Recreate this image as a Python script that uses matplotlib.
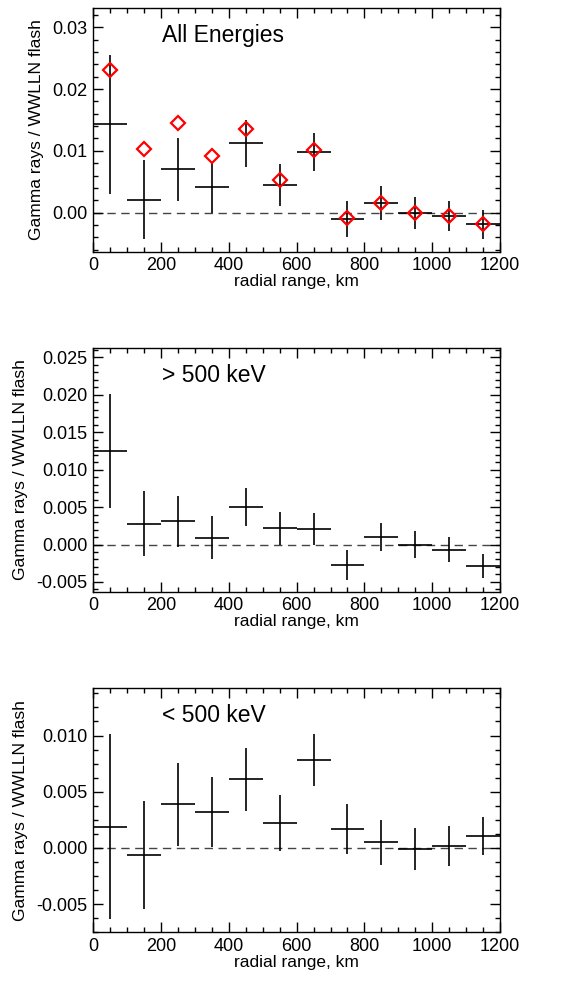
import numpy as np
import matplotlib
matplotlib.use('Agg')
import matplotlib.pyplot as plt
from matplotlib.ticker import MultipleLocator, AutoMinorLocator, FormatStrFormatter

plt.rcParams['font.family'] = ['Liberation Sans', 'DejaVu Sans']

# radial bins, km (bin centers, width 100)
r_center = [50, 150, 250, 350, 450, 550, 650, 750, 850, 950, 1050, 1150]
half_bin = 50

# all energies
all_val = [0.0143, 0.0021, 0.0070, 0.0041, 0.0112, 0.0045, 0.0098, -0.0010, 0.0016, 0.0000, -0.0005, -0.0019]
all_err = [0.0112, 0.0064, 0.0051, 0.0041, 0.0038, 0.0034, 0.0031, 0.0029, 0.0027, 0.0026, 0.0024, 0.0024]
all_red = [0.0231, 0.0103, 0.0145, 0.0092, 0.0136, 0.0053, 0.0102, -0.0009, 0.0016, 0.0000, -0.0005, -0.0019]

# > 500 keV
hi_val = [0.0125, 0.0028, 0.0031, 0.0009, 0.0050, 0.0022, 0.0021, -0.0028, 0.0010, 0.0000, -0.0007, -0.0029]
hi_err = [0.0076, 0.0044, 0.0034, 0.0029, 0.0025, 0.0022, 0.0021, 0.0020, 0.0019, 0.0018, 0.0017, 0.0016]

# < 500 keV
lo_val = [0.0019, -0.0006, 0.0039, 0.0032, 0.0061, 0.0022, 0.0078, 0.0017, 0.0005, -0.0001, 0.0002, 0.0011]
lo_err = [0.0082, 0.0048, 0.0037, 0.0031, 0.0028, 0.0025, 0.0023, 0.0022, 0.0020, 0.0019, 0.0018, 0.0017]

fig = plt.figure(figsize=(5.74, 9.84), dpi=100)

panels = [
    ([0.1626, 0.7442, 0.7084, 0.2477], all_val, all_err, all_red, 'All Energies',
     (-0.0063, 0.0331), 0.01, 5, '%.2f'),
    ([0.1626, 0.3987, 0.7084, 0.2473], hi_val, hi_err, None, '> 500 keV',
     (-0.0063, 0.0262), 0.005, 5, '%.3f'),
    ([0.1626, 0.0525, 0.7084, 0.2480], lo_val, lo_err, None, '< 500 keV',
     (-0.0075, 0.0142), 0.005, 4, '%.3f'),
]

for rect, val, err, red, title, ylim, major, nminor, fmt in panels:
    ax = fig.add_axes(rect)
    ax.axhline(0, color='#444444', lw=1.0, ls=(0, (6, 4)), zorder=1)
    ax.errorbar(r_center, val, xerr=half_bin, yerr=err, fmt='none',
                ecolor='black', elinewidth=1.2, capsize=0, zorder=2)
    if red is not None:
        ax.plot(r_center, red, ls='none', marker='D', ms=7, mfc='none',
                mec='red', mew=1.6, zorder=3)
    ax.set_xlim(0, 1200)
    ax.set_ylim(*ylim)
    ax.xaxis.set_major_locator(MultipleLocator(200))
    ax.xaxis.set_minor_locator(AutoMinorLocator(4))
    ax.yaxis.set_major_locator(MultipleLocator(major))
    ax.yaxis.set_minor_locator(AutoMinorLocator(nminor))
    ax.yaxis.set_major_formatter(FormatStrFormatter(fmt))
    ax.tick_params(which='both', direction='in', top=True, right=True,
                   labelsize=13, width=1.0)
    ax.tick_params(which='major', length=7, pad=4)
    ax.tick_params(which='minor', length=3.5)
    for s in ax.spines.values():
        s.set_linewidth(1.0)
    ax.set_xlabel('radial range, km', fontsize=12.5, labelpad=0)
    ax.set_ylabel('Gamma rays / WWLLN flash', fontsize=12.5, labelpad=6)
    ax.text(0.168, 0.862, title, transform=ax.transAxes, fontsize=16.5)

fig.savefig('out.png', dpi=100)
